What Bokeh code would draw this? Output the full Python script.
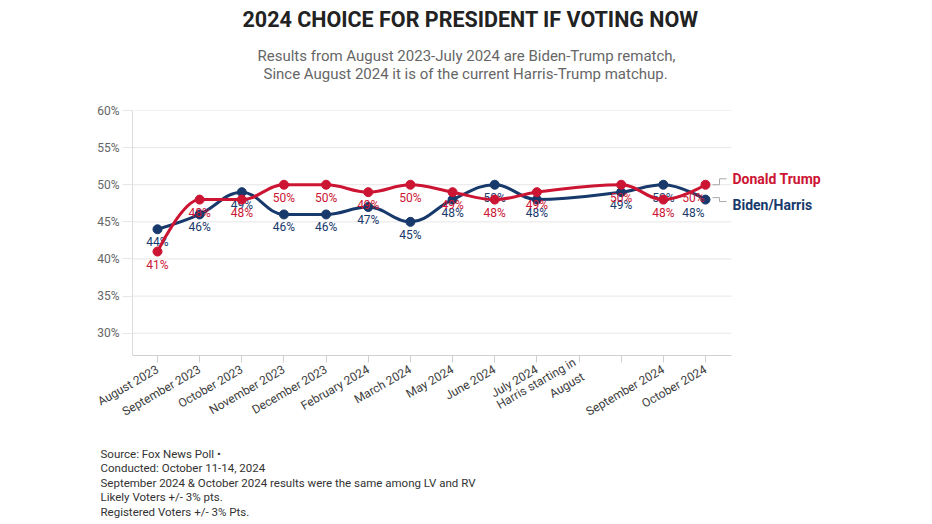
import math
from bokeh.plotting import figure
from bokeh.models import Range1d, FixedTicker, Label, ColumnDataSource, Title
from bokeh.core.properties import value
from bokeh.embed import file_html
from bokeh.resources import INLINE

# ---------------- data ----------------
categories = ["August 2023", "September 2023", "October 2023", "November 2023",
              "December 2023", "February 2024", "March 2024", "May 2024",
              "June 2024", "July 2024", "Harris starting in\nAugust", "",
              "September 2024", "October 2024"]
trump = [41, 48, 48, 50, 50, 49, 50, 49, 48, 49, None, 50, 48, 50]
biden_harris = [44, 46, 49, 46, 46, 47, 45, 48, 50, 48, None, 49, 50, 48]
y_ticks = [30, 35, 40, 45, 50, 55, 60]
y_tick_labels = ["30%", "35%", "40%", "45%", "50%", "55%", "60%"]
series_names = ["Donald Trump", "Biden/Harris"]

title = "2024 CHOICE FOR PRESIDENT IF VOTING NOW"
subtitle = ["Results from August 2023-July 2024 are Biden-Trump rematch,",
            "Since August 2024 it is of the current Harris-Trump matchup."]
footer = ["Source: Fox News Poll \u2022",
          "Conducted: October 11-14, 2024",
          "September 2024 & October 2024 results were the same among LV and RV",
          "Likely Voters +/- 3% pts.",
          "Registered Voters +/- 3% Pts."]

RED = "#cc1433"
NAVY = "#17396b"
FONT = "Roboto"

# ---------------- layout ----------------
W, H = 932, 524
FL, FT, FB = 132, 110, 357        # frame edges (page pixels)
PLOT_R = 731                      # right end of the drawn chart area
FR = 900                          # frame extends right to hold end labels
X0, X_END = -0.593, 13.617
Y0, Y1 = 27.0, 60.0
px_x = (PLOT_R - FL) / (X_END - X0)
px_y = (FB - FT) / (Y1 - Y0)
X1 = X0 + (FR - FL) / px_x

p = figure(width=W, height=H, x_range=Range1d(X0, X1), y_range=Range1d(Y0, Y1),
           output_backend="svg", toolbar_location=None,
           min_border_left=FL, min_border_right=W - FR,
           min_border_top=FT, min_border_bottom=H - FB)
p.outline_line_color = None
p.background_fill_color = "white"
p.border_fill_color = "white"

# grid (horizontal lines only across the chart area)
p.xgrid.visible = False
p.ygrid.visible = False
p.segment(x0=[X0] * len(y_ticks), x1=[X_END] * len(y_ticks), y0=y_ticks, y1=y_ticks,
          line_color="#e6e6e6", line_width=1, level="underlay")

yax = p.yaxis[0]
yax.ticker = FixedTicker(ticks=y_ticks)
yax.major_label_overrides = {t: l for t, l in zip(y_ticks, y_tick_labels)}
yax.axis_line_color = "#dcdcdc"
yax.major_tick_line_color = "#e6e6e6"
yax.major_tick_in = 0
yax.major_tick_out = 10
yax.minor_tick_line_color = None
yax.major_label_standoff = 3
yax.major_label_text_font = FONT
yax.major_label_text_font_size = "12px"
yax.major_label_text_color = "#666666"

xax = p.xaxis[0]
xax.ticker = FixedTicker(ticks=list(range(len(categories))))
xax.major_label_overrides = {i: c for i, c in enumerate(categories)}
xax.bounds = (X0, X_END)
xax.axis_line_color = "#d0d0d0"
xax.major_tick_line_color = "#d0d0d0"
xax.major_tick_in = 0
xax.major_tick_out = 7
xax.minor_tick_line_color = None
xax.major_label_orientation = math.pi / 6
xax.major_label_standoff = 6
xax.major_label_text_font = FONT
xax.major_label_text_font_size = "12px"
xax.major_label_text_color = "#3d3d3d"


# ---------------- spline (Highcharts-like) ----------------
def spline_segments(xs, ys, smoothing=1.5):
    denom = smoothing + 1
    n = len(xs)
    left, right = [None] * n, [None] * n
    for i in range(n):
        px, py = xs[i], ys[i]
        if 0 < i < n - 1:
            lx, ly = xs[i - 1], ys[i - 1]
            nx, ny = xs[i + 1], ys[i + 1]
            lcx = (smoothing * px + lx) / denom
            lcy = (smoothing * py + ly) / denom
            rcx = (smoothing * px + nx) / denom
            rcy = (smoothing * py + ny) / denom
            if rcx != lcx:
                corr = ((rcy - lcy) * (rcx - px)) / (rcx - lcx) + py - rcy
                lcy += corr
                rcy += corr
            if lcy > ly and lcy > py:
                lcy = max(ly, py); rcy = 2 * py - lcy
            elif lcy < ly and lcy < py:
                lcy = min(ly, py); rcy = 2 * py - lcy
            if rcy > ny and rcy > py:
                rcy = max(ny, py); lcy = 2 * py - rcy
            elif rcy < ny and rcy < py:
                rcy = min(ny, py); lcy = 2 * py - rcy
            left[i] = (lcx, lcy)
            right[i] = (rcx, rcy)
        else:
            left[i] = right[i] = (px, py)
    seg = dict(x0=[], y0=[], x1=[], y1=[], cx0=[], cy0=[], cx1=[], cy1=[])
    for i in range(1, n):
        seg["x0"].append(xs[i - 1]); seg["y0"].append(ys[i - 1])
        seg["x1"].append(xs[i]); seg["y1"].append(ys[i])
        seg["cx0"].append(right[i - 1][0]); seg["cy0"].append(right[i - 1][1])
        seg["cx1"].append(left[i][0]); seg["cy1"].append(left[i][1])
    return seg


def draw_series(vals, color):
    xs = [i for i, v in enumerate(vals) if v is not None]
    ys = [v for v in vals if v is not None]
    seg = spline_segments(xs, ys)
    p.bezier(x0="x0", y0="y0", x1="x1", y1="y1", cx0="cx0", cy0="cy0",
             cx1="cx1", cy1="cy1", source=ColumnDataSource(seg),
             line_color=color, line_width=3)
    p.scatter(xs, ys, size=9, fill_color=color, line_color=color)
    last = len(xs) - 1
    src = ColumnDataSource(dict(
        x=xs, y=ys, t=[f"{v}%" for v in ys],
        xo=[-12 if i == last else 0 for i in range(len(xs))]))
    p.text(x="x", y="y", text="t", source=src, x_offset="xo", y_offset=13,
           text_align="center", text_baseline="middle",
           text_font=value(FONT), text_font_size="12px", text_color=color)


draw_series(biden_harris, NAVY)
draw_series(trump, RED)

# ---------------- end-of-line labels with connectors ----------------
last_i = len(categories) - 1


def connector(y_val, dy_px):
    xa = last_i + 7 / px_x
    xb = last_i + 14 / px_x
    xc = last_i + 21 / px_x
    yb = y_val + dy_px / px_y
    p.line([xa, xb, xb, xc], [y_val, y_val, yb, yb], line_color="#aaaaaa", line_width=1)


connector(trump[last_i], 6)
connector(biden_harris[last_i] + 2 / px_y, -4)
p.add_layout(Label(x=last_i, y=trump[last_i], x_offset=27, y_offset=6,
                   text=series_names[0], text_font=FONT, text_font_size="14px",
                   text_font_style="bold", text_color=RED, text_baseline="middle"))
p.add_layout(Label(x=last_i, y=biden_harris[last_i], x_offset=27, y_offset=-5,
                   text=series_names[1], text_font=FONT, text_font_size="14px",
                   text_font_style="bold", text_color=NAVY, text_baseline="middle"))

# ---------------- titles (above, stacked outward from frame) ----------------
# spacer between subtitle and chart
p.add_layout(Title(text=" ", align="left", standoff=21, vertical_align="top",
                   text_font=FONT, text_font_size="10px"), "above")
p.add_layout(Title(text=subtitle[1], align="left", offset=263 - FL, standoff=-17,
                   vertical_align="top",
                   text_font=FONT, text_font_size="15px", text_font_style="normal",
                   text_color="#666666"), "above")
p.add_layout(Title(text=subtitle[0], align="left", offset=257 - FL, standoff=14,
                   vertical_align="top",
                   text_font=FONT, text_font_size="15px", text_font_style="normal",
                   text_color="#666666"), "above")
p.add_layout(Title(text=title, align="left", offset=242 - FL, standoff=12,
                   vertical_align="top",
                   text_font=FONT, text_font_size="21.5px", text_font_style="bold",
                   text_color="#222222"), "above")

# ---------------- footer (below, after the x axis) ----------------
p.add_layout(Title(text="\n".join(footer), align="left", offset=100 - FL, standoff=8,
                   vertical_align="top", text_line_height=1.04,
                   text_font=FONT, text_font_size="11.5px", text_font_style="normal",
                   text_color="#333333"), "below")

open("out.html", "w").write(file_html(p, INLINE))
